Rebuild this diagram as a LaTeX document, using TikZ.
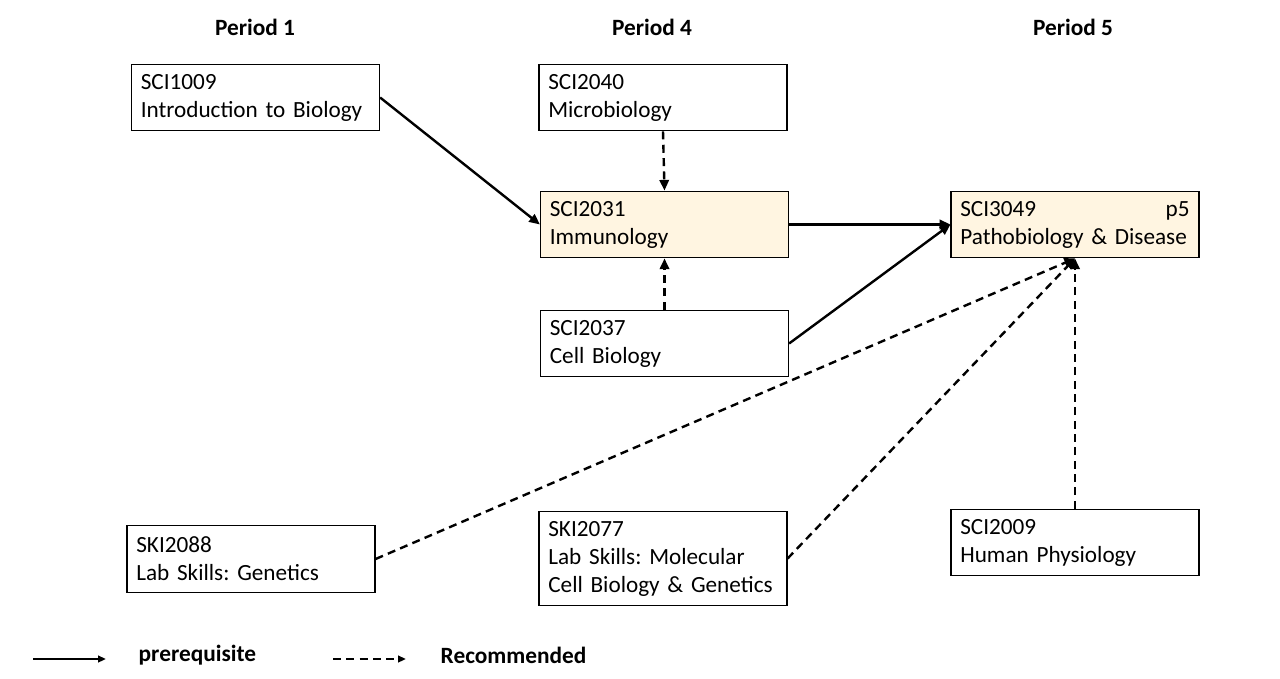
\documentclass[tikz,border=0pt]{standalone}
\usepackage{fontspec}
\setmainfont{Carlito}
\usepackage{tikz}
\usetikzlibrary{arrows.meta,positioning}
\definecolor{cream}{RGB}{255,245,225}
\frenchspacing
\hyphenpenalty=10000

\begin{document}
\begin{tikzpicture}[x=0.75pt,y=-0.75pt,
  course/.style={rectangle,draw,line width=0.9pt,text width=172pt,inner xsep=7pt,
    align=left,minimum height=50pt,font=\fontsize{17.4}{21}\selectfont},
  hl/.style={course,fill=cream},
  period/.style={font=\fontsize{17.5}{20}\selectfont\bfseries},
  pre/.style={line width=1.8pt,-{Triangle[length=8pt,width=7pt]}},
  rec/.style={pre,dash pattern=on 6pt off 4pt}]
  \useasboundingbox (0,0) rectangle (1280,678);
  % period headers
  \node[period] (per1) at (255,27) {Period 1};
  \node[period] (per4) at (652,27) {Period 4};
  \node[period] (per5) at (1073,27) {Period 5};
  % courses
  \node[course] (intro) at (255.5,97.5) {SCI1009\\Introduction to Biology};
  \node[course] (micro) at (663,97.5) {SCI2040\\Microbiology};
  \node[hl] (immuno) at (664.5,224.5) {SCI2031\\Immunology};
  \node[course] (cell) at (664.5,343.5) {SCI2037\\Cell Biology};
  \node[hl] (patho) at (1075,224.5) {SCI3049\hfill p5\hspace*{8pt}\\Pathobiology \& Disease};
  \node[course] (genlab) at (251,559) {SKI2088\\Lab Skills: Genetics};
  \node[course,minimum height=71pt] (mollab) at (663,558.5) {SKI2077\\Lab Skills: Molecular\\Cell Biology \& Genetics};
  \node[course] (physio) at (1075,542.5) {SCI2009\\Human Physiology};
  % prerequisites
  \draw[pre] (intro.east) -- (immuno.west);
  \draw[pre] (immuno.east) -- (patho.west);
  \draw[pre] (cell.east) -- (patho.west);
  % recommended
  \draw[rec] (micro.south) -- (immuno.north);
  \draw[rec] (cell.north) -- (immuno.south);
  \draw[rec] (genlab.east) -- (patho.south);
  \draw[rec] (mollab.east) -- (patho.south);
  \draw[rec] (physio.north) -- (patho.south);
  % legend
  \coordinate (pa) at (33,659);
  \coordinate (pb) at (106,659);
  \coordinate (ra) at (333,659);
  \coordinate (rb) at (406,659);
  \draw[pre,-{Triangle[length=6pt,width=5pt]}] (pa) -- (pb);
  \draw[rec,-{Triangle[length=6pt,width=5pt]}] (ra) -- (rb);
  \node[period,anchor=west] (prelbl) at (134,655) {prerequisite};
  \node[period,anchor=west] (reclbl) at (436,655) {Recommended};
\end{tikzpicture}
\end{document}
